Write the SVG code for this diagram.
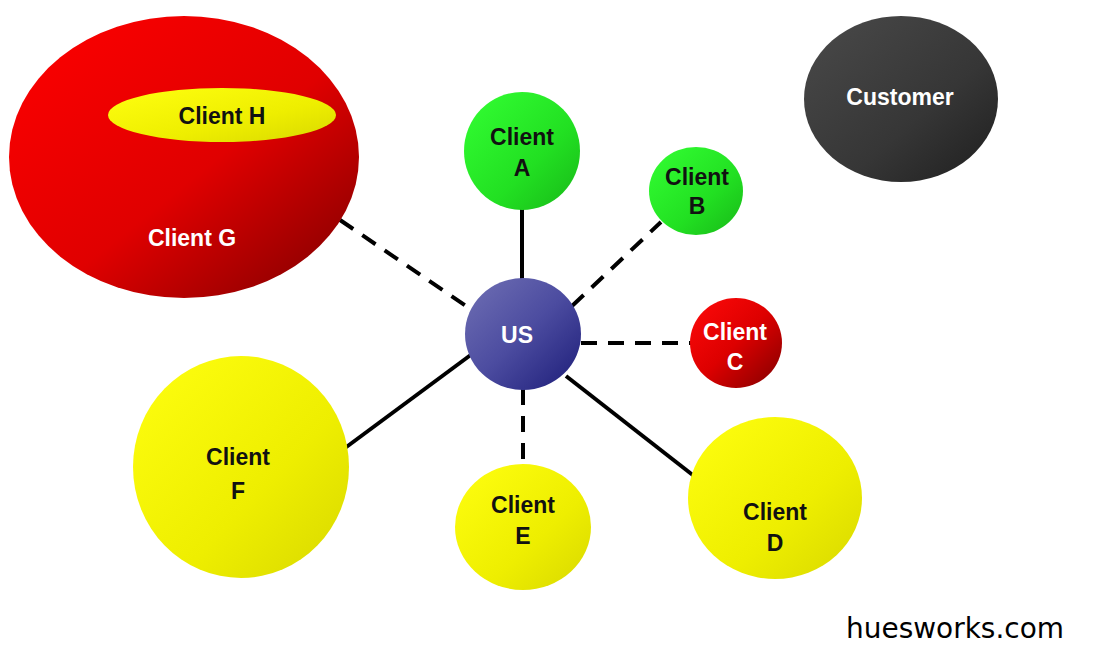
<svg xmlns="http://www.w3.org/2000/svg" width="1097" height="651" viewBox="0 0 1097 651">
<defs>
<linearGradient id="gRed" x1="0" y1="0" x2="1" y2="1"><stop offset="0" stop-color="#ff0000"/><stop offset="0.55" stop-color="#e00000"/><stop offset="1" stop-color="#7a0000"/></linearGradient>
<linearGradient id="gRedC" x1="0" y1="0" x2="1" y2="1"><stop offset="0" stop-color="#ff0a0a"/><stop offset="0.5" stop-color="#dd0000"/><stop offset="1" stop-color="#800000"/></linearGradient>
<linearGradient id="gGreen" x1="0" y1="0" x2="1" y2="1"><stop offset="0" stop-color="#33ff33"/><stop offset="0.6" stop-color="#22e022"/><stop offset="1" stop-color="#18b818"/></linearGradient>
<linearGradient id="gYellow" x1="0" y1="0" x2="1" y2="1"><stop offset="0" stop-color="#ffff10"/><stop offset="0.6" stop-color="#eeee00"/><stop offset="1" stop-color="#d8d800"/></linearGradient>
<linearGradient id="gBlue" x1="0" y1="0" x2="1" y2="1"><stop offset="0" stop-color="#7070b4"/><stop offset="0.5" stop-color="#4c4ca0"/><stop offset="1" stop-color="#1c1c78"/></linearGradient>
<linearGradient id="gGrey" x1="0" y1="0" x2="1" y2="1"><stop offset="0" stop-color="#4a4a4a"/><stop offset="0.6" stop-color="#363636"/><stop offset="1" stop-color="#1e1e1e"/></linearGradient>
</defs>
<style>
.lbl{font-family:"Liberation Sans",Arial,sans-serif;font-weight:bold;font-size:23px;text-anchor:middle}
.dk{fill:#111}
.wt{fill:#fff}
.solid{stroke:#000;stroke-width:4;fill:none}
.dash{stroke:#000;stroke-width:4;fill:none;stroke-dasharray:16 11}
</style>
<rect width="1097" height="651" fill="#fff"/>
<g id="connectors">
<line class="solid" x1="522" y1="209" x2="522" y2="280"/>
<line class="dash" x1="572" y1="306" x2="661" y2="222"/>
<line class="dash" x1="581" y1="343" x2="692" y2="343"/>
<line class="dash" x1="340" y1="220" x2="472" y2="310"/>
<line class="solid" x1="345" y1="448" x2="472" y2="354"/>
<line class="dash" x1="523" y1="389" x2="523" y2="464"/>
<line class="solid" x1="566" y1="376" x2="694" y2="476"/>
</g>
<g id="clientG">
<ellipse cx="184" cy="157" rx="175" ry="141" fill="url(#gRed)"/>
<text class="lbl wt" x="192" y="246">Client G</text>
</g>
<g id="clientH">
<ellipse cx="222" cy="115" rx="114" ry="27" fill="url(#gYellow)"/>
<text class="lbl dk" x="222" y="124">Client H</text>
</g>
<g id="clientA">
<ellipse cx="522" cy="151" rx="58" ry="59" fill="url(#gGreen)"/>
<text class="lbl dk" x="522" y="145">Client</text>
<text class="lbl dk" x="522" y="176">A</text>
</g>
<g id="clientB">
<ellipse cx="696" cy="191" rx="47" ry="44" fill="url(#gGreen)"/>
<text class="lbl dk" x="697" y="185">Client</text>
<text class="lbl dk" x="697" y="214">B</text>
</g>
<g id="us">
<ellipse cx="523" cy="334" rx="58" ry="56" fill="url(#gBlue)"/>
<text class="lbl wt" x="517" y="343">US</text>
</g>
<g id="clientC">
<ellipse cx="736" cy="343" rx="46" ry="45" fill="url(#gRedC)"/>
<text class="lbl wt" x="735" y="340">Client</text>
<text class="lbl wt" x="735" y="370">C</text>
</g>
<g id="clientF">
<ellipse cx="241" cy="467" rx="108" ry="111" fill="url(#gYellow)"/>
<text class="lbl dk" x="238" y="465">Client</text>
<text class="lbl dk" x="238" y="499">F</text>
</g>
<g id="clientE">
<ellipse cx="523" cy="527" rx="68" ry="63" fill="url(#gYellow)"/>
<text class="lbl dk" x="523" y="513">Client</text>
<text class="lbl dk" x="523" y="544">E</text>
</g>
<g id="clientD">
<ellipse cx="775" cy="498" rx="87" ry="81" fill="url(#gYellow)"/>
<text class="lbl dk" x="775" y="520">Client</text>
<text class="lbl dk" x="775" y="551">D</text>
</g>
<g id="customer">
<ellipse cx="901" cy="99" rx="97" ry="83" fill="url(#gGrey)"/>
<text class="lbl wt" x="900" y="105">Customer</text>
</g>
<text x="955" y="638" font-family="DejaVu Sans, sans-serif" font-size="29" fill="#000" text-anchor="middle" textLength="218" lengthAdjust="spacingAndGlyphs">huesworks.com</text>
</svg>
